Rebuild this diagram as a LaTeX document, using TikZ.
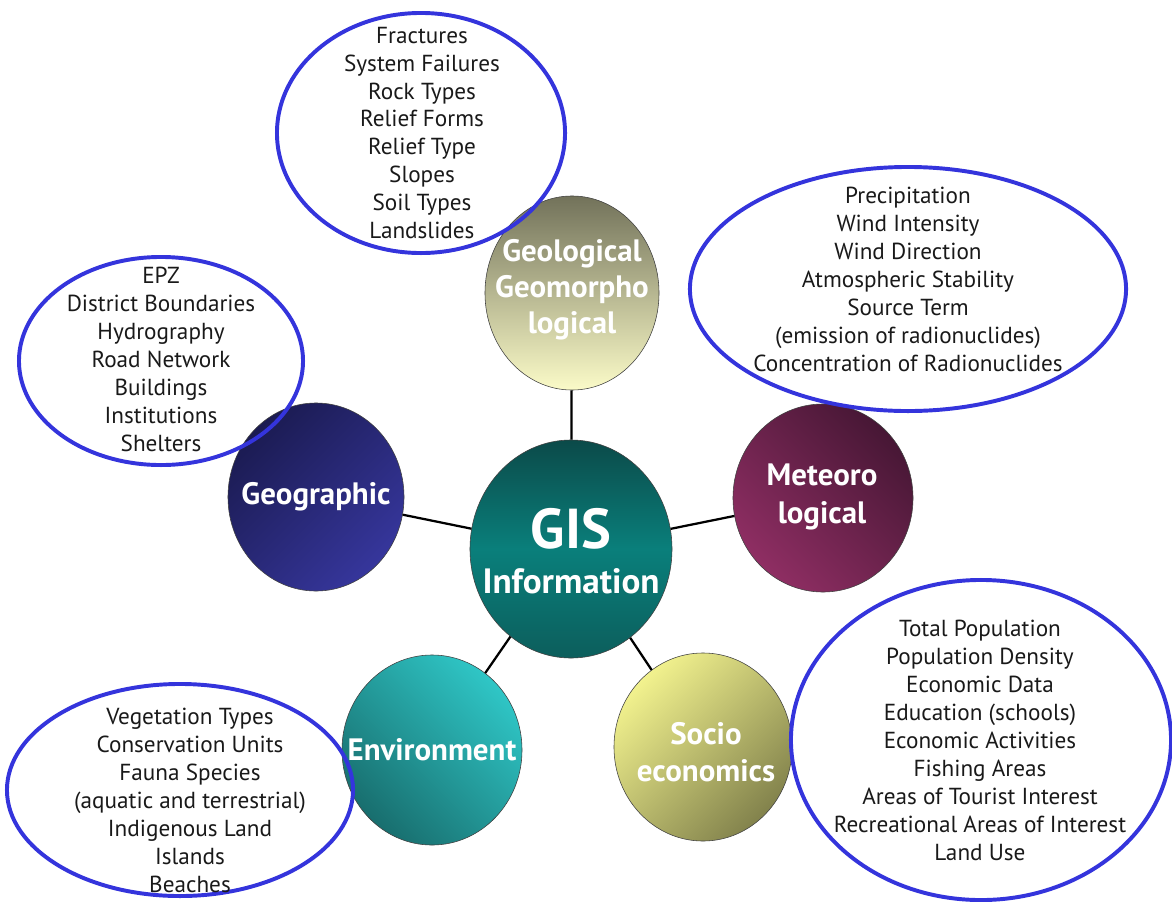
\documentclass[tikz,border=0pt]{standalone}
\usepackage{fontspec}
\setmainfont{PT Sans}
\usetikzlibrary{shapes.geometric}
\definecolor{azullista}{HTML}{3434DC}
\definecolor{gisosc}{HTML}{0B4A49}
\definecolor{gismed}{HTML}{0A7F7B}
\definecolor{gisbaj}{HTML}{0C5E5C}
\definecolor{geoloosc}{HTML}{72725A}
\definecolor{geoloclaro}{HTML}{FBFBC8}
\definecolor{geograosc}{HTML}{1B1B52}
\definecolor{geograclaro}{HTML}{36369C}
\definecolor{meteoosc}{HTML}{471735}
\definecolor{meteoclaro}{HTML}{8F2E63}
\definecolor{socioclaro}{HTML}{F2F28E}
\definecolor{sociooscu}{HTML}{82824C}
\definecolor{ambclaro}{HTML}{2FC6C6}
\definecolor{amboscu}{HTML}{186E6E}

\begin{document}
\begin{tikzpicture}[x=0.025cm,y=-0.025cm]
% estilos de circulos, listas y lineas
\tikzstyle{tema}=[ellipse,draw=black!75,thin,inner sep=0pt];
\tikzstyle{temt}=[text=white,align=center,inner sep=0pt,
  font=\bfseries\fontsize{22}{25.6}\selectfont];
\tikzstyle{lista}=[ellipse,draw=azullista,line width=2.8pt,inner sep=0pt];
\tikzstyle{item}=[align=center,text=black!90,inner sep=0pt,
  font=\fontsize{16.5}{19.9}\selectfont];
\tikzstyle{enlace}=[line width=1.6pt,black];
\useasboundingbox (0,0) rectangle (1172,902);
% dibujar circulos de temas
\node[tema,minimum width=5.05cm,minimum height=5.45cm,
  top color=gisosc,bottom color=gisbaj,middle color=gismed] (gis) at (571,549) {};
\node[tema,minimum width=4.35cm,minimum height=4.85cm,
  top color=geoloosc,bottom color=geoloclaro] (geolo) at (572,293) {};
\node[tema,minimum width=4.4cm,minimum height=4.7cm,
  top color=geograosc,bottom color=geograclaro,shading angle=45] (geogra) at (316,497) {};
\node[tema,minimum width=4.5cm,minimum height=4.7cm,
  top color=meteoosc,bottom color=meteoclaro,shading angle=-45] (meteo) at (823,498) {};
\node[tema,minimum width=4.45cm,minimum height=4.7cm,
  top color=socioclaro,bottom color=sociooscu,shading angle=45] (socio) at (703,747) {};
\node[tema,minimum width=4.5cm,minimum height=4.75cm,
  top color=ambclaro,bottom color=amboscu,shading angle=-45] (amb) at (432,750) {};
% rotulos de temas
\node[temt] (tgis) at (571,551)
  {{\fontsize{40}{40}\selectfont GIS}\\[6pt]{\fontsize{25}{25}\selectfont Information}};
\node[temt] (tgeolo) at (572,290) {Geological\\Geomorpho\\logical};
\node[temt] (tgeogra) at (316,497) {Geographic};
\node[temt,font=\bfseries\fontsize{22}{26.5}\selectfont] (tmeteo) at (822,497) {Meteoro\\logical};
\node[temt,font=\bfseries\fontsize{22}{26.5}\selectfont] (tsocio) at (706,752) {Socio\\economics};
\node[temt] (tamb) at (432,750) {Environment};
% dibujar enlaces
\draw[enlace] (gis) -- (geolo);
\draw[enlace] (gis) -- (geogra);
\draw[enlace] (gis) -- (meteo);
\draw[enlace] (gis) -- (socio);
\draw[enlace] (gis) -- (amb);
% dibujar listas
\node[lista,minimum width=7.2cm,minimum height=6.0cm] (lgeolo) at (421,133) {};
\node[lista,minimum width=7.1cm,minimum height=5.2cm] (lgeogra) at (161,361) {};
\node[lista,minimum width=10.9cm,minimum height=6.1cm] (lmeteo) at (908,289) {};
\node[lista,minimum width=9.5cm,minimum height=8.0cm] (lsocio) at (981,740) {};
\node[lista,minimum width=8.65cm,minimum height=5.3cm] (lamb) at (180,790) {};
% textos de listas
\node[item] (igeolo) at (422,133) {Fractures\\System Failures\\Rock Types\\Relief Forms\\
  Relief Type\\Slopes\\Soil Types\\Landslides};
\node[item] (igeogra) at (161,359) {EPZ\\District Boundaries\\Hydrography\\Road Network\\
  Buildings\\Institutions\\Shelters};
\node[item] (imeteo) at (908,279) {Precipitation\\Wind Intensity\\Wind Direction\\
  Atmospheric Stability\\Source Term\\(emission of radionuclides)\\
  Concentration of Radionuclides};
\node[item] (isocio) at (980,740) {Total Population\\Population Density\\Economic Data\\
  Education (schools)\\Economic Activities\\Fishing Areas\\Areas of Tourist Interest\\
  Recreational Areas of Interest\\Land Use};
\node[item] (iamb) at (190,800) {Vegetation Types\\Conservation Units\\Fauna Species\\
  (aquatic and terrestrial)\\Indigenous Land\\Islands\\Beaches};
\end{tikzpicture}
\end{document}
